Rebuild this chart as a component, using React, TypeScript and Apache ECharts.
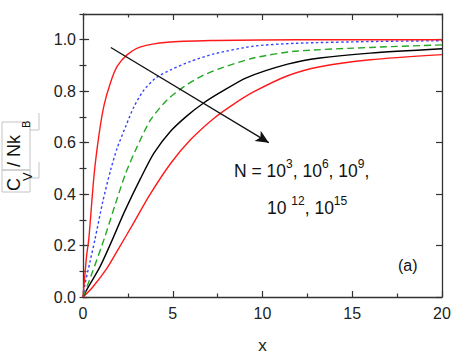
import React, { useEffect, useRef } from "react";
import * as echarts from "echarts";

// ---- data ----
const xN3 = [0, 0.2, 0.33, 0.61, 0.89, 1.17, 1.54, 1.91, 2.47, 3.21, 4.7, 7.3, 10, 14, 20];
const yN3 = [0, 0.16, 0.23, 0.47, 0.63, 0.745, 0.835, 0.897, 0.942, 0.972, 0.99, 0.997, 0.999, 1.0, 1.0];

const xN6 = [0, 0.11, 0.4, 0.66, 1.1, 1.54, 1.91, 2.38, 2.84, 3.4, 4.05, 4.89, 6.0, 7.3, 9.5, 11.8, 16, 20];
const yN6 = [0, 0.05, 0.14, 0.222, 0.37, 0.494, 0.58, 0.663, 0.74, 0.805, 0.851, 0.883, 0.916, 0.945, 0.975, 0.986, 0.993, 0.996];

const xN9 = [0, 0.49, 1.2, 1.82, 2.38, 3.02, 3.77, 4.7, 5.63, 6.56, 7.5, 9.5, 11.8, 16, 20];
const yN9 = [0, 0.09, 0.23, 0.365, 0.481, 0.585, 0.689, 0.767, 0.818, 0.857, 0.885, 0.929, 0.955, 0.97, 0.98];

const xN12 = [0, 0.2, 0.95, 1.63, 2.3, 3.2, 3.96, 4.89, 5.81, 6.74, 7.65, 9.1, 11.4, 13.2, 16, 20];
const yN12 = [0, 0.027, 0.118, 0.222, 0.33, 0.46, 0.56, 0.645, 0.705, 0.755, 0.795, 0.852, 0.905, 0.929, 0.948, 0.965];

const xN15 = [0, 0.5, 1.32, 2.0, 2.84, 3.7, 4.89, 6.0, 7.3, 8.4, 9.5, 11.4, 13.2, 16, 20];
const yN15 = [0, 0.035, 0.11, 0.19, 0.29, 0.395, 0.52, 0.612, 0.695, 0.75, 0.797, 0.86, 0.895, 0.922, 0.942];

const arrowFrom = [1.55, 0.97];
const arrowTo = [10.35, 0.6];

const xTickLabels = ["0", "5", "10", "15", "20"];

const FONT = "Liberation Sans, Arial, Helvetica, sans-serif";

function pairs(xs: number[], ys: number[]) {
  return xs.map((x, i) => [x, ys[i]]);
}

export default function App() {
  const ref = useRef<HTMLDivElement>(null);
  useEffect(() => {
    if (!ref.current) return;
    const chart = echarts.init(ref.current, undefined, { renderer: "svg" });
    const axisColor = "#333";
    const baseX = {
      type: "value" as const,
      min: 0,
      max: 20,
      interval: 5,
      axisLine: { show: true, onZero: false, lineStyle: { color: axisColor, width: 1.3 } },
      axisTick: { show: true, inside: true, length: 6, lineStyle: { color: axisColor, width: 1.2 } },
      minorTick: { show: true, splitNumber: 2, length: 3.5, lineStyle: { color: axisColor, width: 1.2 } },
      splitLine: { show: false },
    };
    const baseY = {
      type: "value" as const,
      min: 0,
      max: 1.1,
      axisLine: { show: true, onZero: false, lineStyle: { color: axisColor, width: 1.3 } },
      splitLine: { show: false },
    };
    const line = (name: string, xs: number[], ys: number[], color: string, type: any) => ({
      name,
      type: "line",
      data: pairs(xs, ys),
      showSymbol: false,
      smooth: 0.25,
      lineStyle: { color, width: 1.4, type },
      z: 3,
    });
    const rich = {
      m: { fontSize: 17.5, fontFamily: FONT, fill: "#111", lineHeight: 22, verticalAlign: "bottom" },
      s: { fontSize: 12, fontFamily: FONT, fill: "#111", lineHeight: 13, verticalAlign: "top" },
    };
    chart.setOption({
      animation: false,
      backgroundColor: "#fff",
      grid: { left: 83, right: 15, top: 14, bottom: 67, containLabel: false },
      xAxis: [
        {
          ...baseX,
          position: "bottom",
          axisLabel: {
            show: true,
            margin: 8,
            fontSize: 16,
            color: "#222",
            fontFamily: FONT,
            formatter: (v: number) => xTickLabels[Math.round(v / 5)] ?? String(v),
          },
          name: "x",
          nameLocation: "middle",
          nameGap: 40,
          nameTextStyle: { fontSize: 17, color: "#222", fontFamily: FONT },
        },
        { ...baseX, position: "top", axisLabel: { show: false } },
      ],
      yAxis: [
        {
          ...baseY,
          position: "left",
          interval: 0.2,
          axisTick: { show: true, inside: true, length: 6, lineStyle: { color: axisColor, width: 1.2 } },
          axisLabel: {
            show: true,
            margin: 7,
            fontSize: 16,
            color: "#222",
            fontFamily: FONT,
            showMaxLabel: false,
            formatter: (v: number) => v.toFixed(1),
          },
        },
        {
          ...baseY,
          position: "left",
          interval: 0.1,
          axisLine: { show: false },
          axisTick: { show: true, inside: true, length: 3.5, lineStyle: { color: axisColor, width: 1.2 } },
          axisLabel: { show: false },
        },
        {
          ...baseY,
          position: "right",
          interval: 0.2,
          axisTick: { show: true, inside: true, length: 6, lineStyle: { color: axisColor, width: 1.2 } },
          axisLabel: { show: false },
        },
        {
          ...baseY,
          position: "right",
          interval: 0.1,
          axisLine: { show: false },
          axisTick: { show: true, inside: true, length: 3.5, lineStyle: { color: axisColor, width: 1.2 } },
          axisLabel: { show: false },
        },
      ],
      series: [
        line("N=1e15", xN15, yN15, "#ff1a1a", "solid"),
        line("N=1e12", xN12, yN12, "#000000", "solid"),
        line("N=1e9", xN9, yN9, "#22a822", [7, 4]),
        line("N=1e6", xN6, yN6, "#3344ff", [2.5, 2.5]),
        line("N=1e3", xN3, yN3, "#ff1a1a", "solid"),
        {
          name: "arrow",
          type: "line",
          data: [],
          markLine: {
            silent: true,
            symbol: ["none", "arrow"],
            symbolSize: [9, 13],
            label: { show: false },
            lineStyle: { color: "#111", width: 1.3, type: "solid" },
            data: [[{ coord: arrowFrom }, { coord: arrowTo }]],
          },
        },
      ],
      graphic: [
        {
          type: "text",
          left: 234,
          top: 158,
          style: { text: "{m|N = 10}{s|3}{m|, 10}{s|6}{m|, 10}{s|9}{m|,}", rich },
        },
        {
          type: "text",
          left: 267,
          top: 195,
          style: { text: "{m|10 }{s|12}{m|, 10}{s|15}", rich },
        },
        {
          type: "text",
          left: 398,
          top: 257,
          style: { text: "(a)", fontSize: 16, fontFamily: FONT, fill: "#111" },
        },
        // grey frame artefacts around the y label
        { type: "rect", shape: { x: 2, y: 170, width: 28, height: 22 }, style: { fill: "none", stroke: "#c4c4c4", lineWidth: 1 } },
        { type: "rect", shape: { x: 2, y: 122, width: 28, height: 48 }, style: { fill: "none", stroke: "#c4c4c4", lineWidth: 1 } },
        { type: "polyline", shape: { points: [[30, 178], [39, 178], [39, 162]] }, style: { fill: "none", stroke: "#c4c4c4", lineWidth: 1 } },
        { type: "polyline", shape: { points: [[30, 130], [39, 130], [39, 113]] }, style: { fill: "none", stroke: "#c4c4c4", lineWidth: 1 } },
        {
          type: "group",
          x: 14,
          y: 191,
          rotation: Math.PI / 2,
          children: [
            { type: "text", x: 0, y: 0, style: { text: "C", fontSize: 18, fontFamily: FONT, fill: "#111", verticalAlign: "middle", align: "left" } },
            { type: "text", x: 10, y: 13, style: { text: "V", fontSize: 13, fontFamily: FONT, fill: "#111", verticalAlign: "middle", align: "left" } },
            { type: "text", x: 24, y: 0, style: { text: "/ Nk", fontSize: 18, fontFamily: FONT, fill: "#111", verticalAlign: "middle", align: "left" } },
            { type: "text", x: 63, y: 12, style: { text: "B", fontSize: 11, fontFamily: FONT, fill: "#111", verticalAlign: "middle", align: "left" } },
          ],
        },
      ],
    });
    return () => chart.dispose();
  }, []);
  return <div ref={ref} style={{ width: 457, height: 364, position: "absolute", left: 0, top: 0 }} />;
}
